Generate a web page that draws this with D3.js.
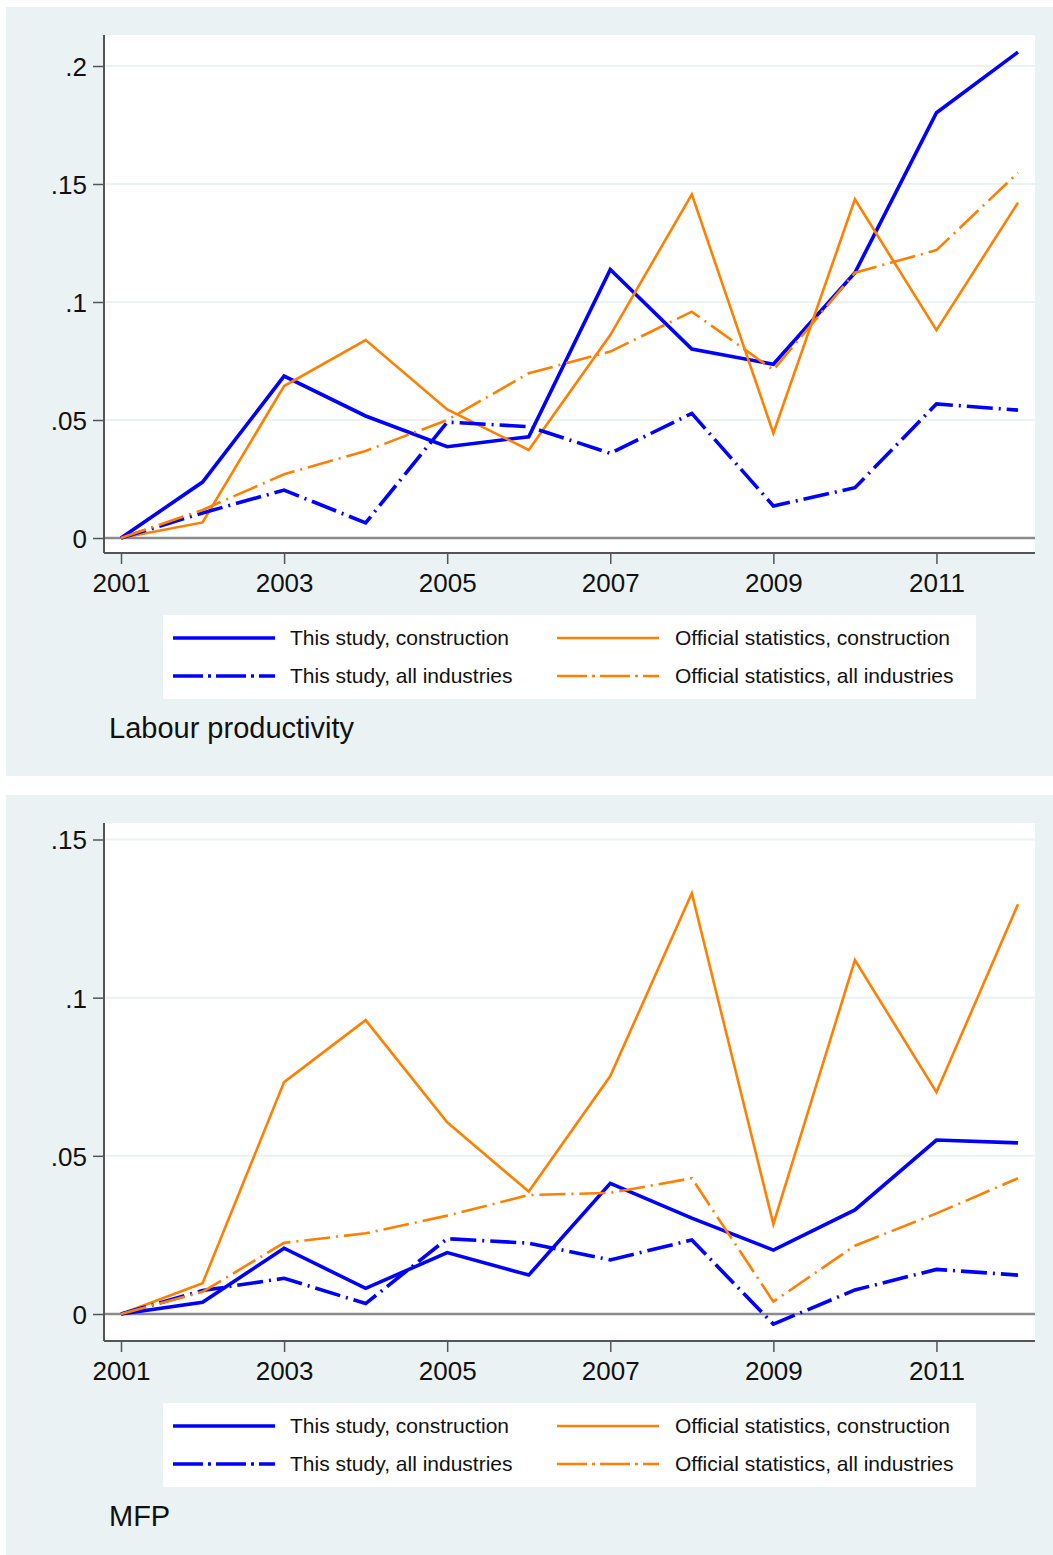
<!DOCTYPE html>
<html>
<head>
<meta charset="utf-8">
<script src="https://cdnjs.cloudflare.com/ajax/libs/d3/7.8.5/d3.min.js"></script>
<style>
  html, body { margin: 0; padding: 0; background: #ffffff; }
  svg { display: block; }
  text { font-family: "Liberation Sans", Arial, Helvetica, sans-serif; fill: #111; }
</style>
</head>
<body>
<svg id="chart" width="1053" height="1555"></svg>
<script>
// ---------- DATA ----------
const years = [2001, 2002, 2003, 2004, 2005, 2006, 2007, 2008, 2009, 2010, 2011, 2012];
const xTicks = [2001, 2003, 2005, 2007, 2009, 2011];

const seriesNames = [
  "This study, construction",
  "Official statistics, construction",
  "This study, all industries",
  "Official statistics, all industries"
];

// Labour productivity
const lpStudyConstruction = [0, 0.0237, 0.0686, 0.0517, 0.0387, 0.0429, 0.1138, 0.0801, 0.0736, 0.1124, 0.1802, 0.2059];
const lpOfficialConstruction = [0, 0.0066, 0.0644, 0.0839, 0.0545, 0.0373, 0.0860, 0.1456, 0.0444, 0.1435, 0.0881, 0.1421];
const lpStudyAll = [0, 0.0106, 0.0203, 0.0064, 0.0491, 0.0472, 0.0359, 0.0528, 0.0136, 0.0213, 0.0568, 0.0542];
const lpOfficialAll = [0, 0.0119, 0.0270, 0.0369, 0.0500, 0.0698, 0.0790, 0.0959, 0.0712, 0.1124, 0.1220, 0.1548];
const lpYTicks = [0, 0.05, 0.1, 0.15, 0.2];
const lpYTickLabels = ["0", ".05", ".1", ".15", ".2"];

// MFP
const mfpStudyConstruction = [0, 0.0037, 0.0208, 0.0081, 0.0194, 0.0123, 0.0413, 0.0303, 0.0202, 0.0329, 0.0550, 0.0541];
const mfpOfficialConstruction = [0, 0.0097, 0.0733, 0.0929, 0.0606, 0.0387, 0.0752, 0.1330, 0.0284, 0.1119, 0.0701, 0.1295];
const mfpStudyAll = [0, 0.0074, 0.0113, 0.0033, 0.0238, 0.0224, 0.0171, 0.0234, -0.0032, 0.0076, 0.0141, 0.0123];
const mfpOfficialAll = [0, 0.0070, 0.0225, 0.0255, 0.0311, 0.0376, 0.0383, 0.0429, 0.0039, 0.0216, 0.0318, 0.0429];
const mfpYTicks = [0, 0.05, 0.1, 0.15];
const mfpYTickLabels = ["0", ".05", ".1", ".15"];

const panelTitles = ["Labour productivity", "MFP"];

// ---------- STYLE ----------
const BLUE = "#0000ff";
const ORANGE = "#ff8000";
const BG = "#eaf2f3";
const DASHDOT = "26,6,2,6";
const styles = [
  { color: BLUE, width: 3.6, dash: null },
  { color: ORANGE, width: 2.6, dash: null },
  { color: BLUE, width: 3.6, dash: DASHDOT },
  { color: ORANGE, width: 2.6, dash: DASHDOT }
];

const svg = d3.select("#chart");

function drawPanel(top, seriesList, yDomainMax, yRange, yTicks, yTickLabels, title) {
  const g = svg.append("g").attr("transform", `translate(0,${top})`);
  // background
  g.append("rect").attr("x", 6).attr("y", 0).attr("width", 1053 - 6).attr("height", 769).attr("fill", BG);
  // plot region
  const plotL = 104, plotR = 1035, plotT = 28, plotB = 546;
  g.append("rect").attr("x", plotL).attr("y", plotT).attr("width", plotR - plotL).attr("height", plotB - plotT).attr("fill", "#fff");

  const x = d3.scaleLinear().domain([2001, 2012]).range([121, 1018]);
  const y = d3.scaleLinear().domain([0, yDomainMax]).range(yRange);

  // gridlines
  g.append("g").selectAll("line").data(yTicks.filter(v => v !== 0)).join("line")
    .attr("x1", plotL).attr("x2", plotR)
    .attr("y1", d => y(d)).attr("y2", d => y(d))
    .attr("stroke", BG).attr("stroke-width", 2);

  // zero line
  g.append("line").attr("x1", plotL).attr("x2", plotR)
    .attr("y1", y(0)).attr("y2", y(0))
    .attr("stroke", "#8a8a8a").attr("stroke-width", 2.5);

  // y axis
  const yAxis = d3.axisLeft(y).tickValues(yTicks)
    .tickFormat((d, i) => yTickLabels[i]).tickSize(11).tickPadding(6);
  const ya = g.append("g").attr("transform", `translate(${plotL},0)`).call(yAxis);
  ya.select(".domain").attr("d", `M-0,${plotT}V${plotB}`).attr("stroke", "#555").attr("stroke-width", 2);
  ya.selectAll(".tick line").attr("stroke", "#555").attr("stroke-width", 1.5);
  ya.selectAll(".tick text").attr("font-size", 26).attr("fill", "#111")
    .attr("font-family", "'Liberation Sans', Arial, sans-serif").attr("dy", "0.36em");

  // x axis
  const xAxis = d3.axisBottom(x).tickValues(xTicks).tickFormat(d3.format("d")).tickSize(11).tickPadding(5);
  const xa = g.append("g").attr("transform", `translate(0,${plotB})`).call(xAxis);
  xa.select(".domain").attr("d", `M${plotL},0H${plotR}`).attr("stroke", "#555").attr("stroke-width", 2);
  xa.selectAll(".tick line").attr("stroke", "#555").attr("stroke-width", 1.5);
  xa.selectAll(".tick text").attr("font-size", 26).attr("fill", "#111")
    .attr("font-family", "'Liberation Sans', Arial, sans-serif").attr("dy", "0.9em");

  // lines
  const line = d3.line().x((d, i) => x(years[i])).y(d => y(d));
  seriesList.forEach((vals, k) => {
    const s = styles[k];
    g.append("path").datum(vals)
      .attr("d", line)
      .attr("fill", "none")
      .attr("stroke", s.color)
      .attr("stroke-width", s.width)
      .attr("stroke-linejoin", "miter")
      .attr("stroke-dasharray", s.dash);
  });

  // legend
  const lg = g.append("g");
  lg.append("rect").attr("x", 163).attr("y", 608).attr("width", 813).attr("height", 84).attr("fill", "#fff");
  const cols = [{ lx: 173, tx: 290 }, { lx: 557, tx: 675 }];
  const rows = [631, 669];
  seriesNames.forEach((name, k) => {
    const c = cols[k % 2], r = rows[Math.floor(k / 2)];
    const s = styles[k];
    lg.append("line").attr("x1", c.lx).attr("x2", c.lx + 102)
      .attr("y1", r).attr("y2", r)
      .attr("stroke", s.color).attr("stroke-width", s.width)
      .attr("stroke-dasharray", s.dash ? "30,5,3,5" : null);
    lg.append("text").attr("x", c.tx).attr("y", r).attr("dy", "0.35em")
      .attr("font-size", 21).text(name);
  });

  // title
  g.append("text").attr("x", 109).attr("y", 731).attr("font-size", 29).text(title);
}

drawPanel(7, [lpStudyConstruction, lpOfficialConstruction, lpStudyAll, lpOfficialAll], 0.2, [531, 59], lpYTicks, lpYTickLabels, panelTitles[0]);
drawPanel(795, [mfpStudyConstruction, mfpOfficialConstruction, mfpStudyAll, mfpOfficialAll], 0.15, [519, 44.5], mfpYTicks, mfpYTickLabels, panelTitles[1]);
</script>
</body>
</html>
